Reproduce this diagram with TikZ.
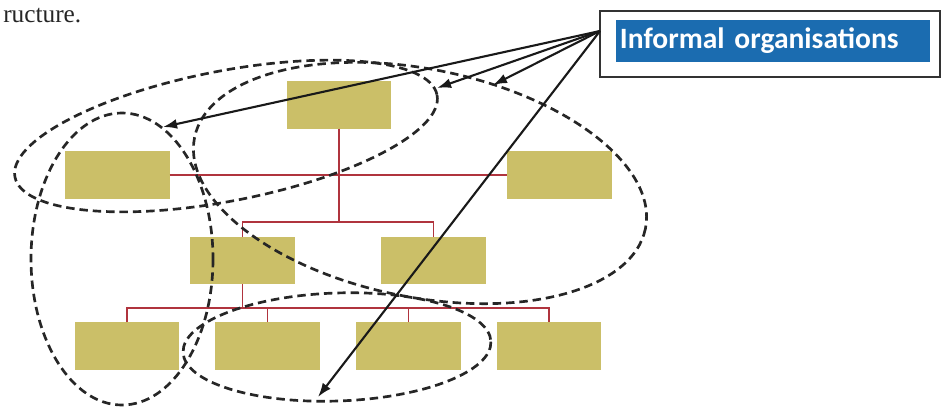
\documentclass[tikz,border=0pt]{standalone}
\usepackage{fontspec}
\setmainfont{Liberation Serif}
\newfontfamily\calibrifont{Carlito}
\usepackage{tikz}
\usetikzlibrary{arrows.meta}

\definecolor{boxfill}{RGB}{203,191,104}
\definecolor{linkred}{RGB}{176,52,62}
\definecolor{calloutblue}{RGB}{27,108,176}

\begin{document}
\begin{tikzpicture}[x=0.025cm,y=-0.025cm]
\tikzstyle{post} = [rectangle, fill=boxfill, minimum width=2.6cm, minimum height=1.18cm, inner sep=0pt, outer sep=0pt];%
\tikzstyle{link} = [draw=linkred, line width=1.1pt];%
\tikzstyle{group} = [draw=black!85, line width=1.9pt, dash pattern=on 6pt off 3.5pt];%
\tikzstyle{pointer} = [draw=black!90, line width=1.5pt, -{Latex[length=10pt,width=7pt]}];%

\useasboundingbox (0,0) rectangle (941,409);

\node at (3,22) [anchor=base west, inner sep=0pt, text=black!85, font=\fontsize{18}{21}\selectfont] (caption) {ructure.};

\node at (339,105)   [post] (top) {};
\node at (117.5,175) [post] (left) {};
\node at (559.5,175) [post] (right) {};
\node at (242.5,260.5) [post] (midA) {};
\node at (433.5,260.5) [post] (midB) {};
\node at (127,346)   [post] (lowA) {};
\node at (267.5,346) [post] (lowB) {};
\node at (408.5,346) [post] (lowC) {};
\node at (549,346)   [post] (lowD) {};

\coordinate (busTwo) at (339,222);
\coordinate (busThree) at (242.5,308);

\path (left.east) edge[link] (right.west) ;
\path (top.south) edge[link] (busTwo) ;
\draw[link] (midA.north) |- (busTwo) -| (midB.north) ;
\path (midA.south) edge[link] (busThree) ;
\draw[link] (lowA.north) |- (busThree) -| (lowD.north) ;
\foreach \n in {lowB,lowC}
  \path (\n.north) edge[link] (\n.north |- busThree) ;

% informal groups
\draw[group, rotate around={11:(226,136)}] (226,136) ellipse [x radius=215, y radius=65];
\draw[group, rotate around={-11.4:(420,183)}] (420,183) ellipse [x radius=230, y radius=114];
\draw[group] (122,259) ellipse [x radius=91, y radius=146];
\draw[group, rotate around={2:(337,347)}] (337,347) ellipse [x radius=154, y radius=54];

\node at (770,44) [draw=black!80, line width=1pt, minimum width=8.5cm, minimum height=1.65cm, inner sep=0pt] (callout) {};
\node at (773,41) [fill=calloutblue, text=white, font=\calibrifont\bfseries\fontsize{21}{25}\selectfont, minimum height=1.05cm, text width=7.65cm, inner xsep=0.1cm, inner ysep=0pt, align=left] (label) {Informal organisations};

\coordinate (src) at (600,31);
\coordinate (tipL) at (163,127);
\coordinate (tipT) at (437,88);
\coordinate (tipR) at (493,85);
\coordinate (tipB) at (318,397);

\path (src) edge[pointer] (tipL) ;
\path (src) edge[pointer] (tipT) ;
\path (src) edge[pointer] (tipR) ;
\path (src) edge[pointer] (tipB) ;

\end{tikzpicture}
\end{document}
